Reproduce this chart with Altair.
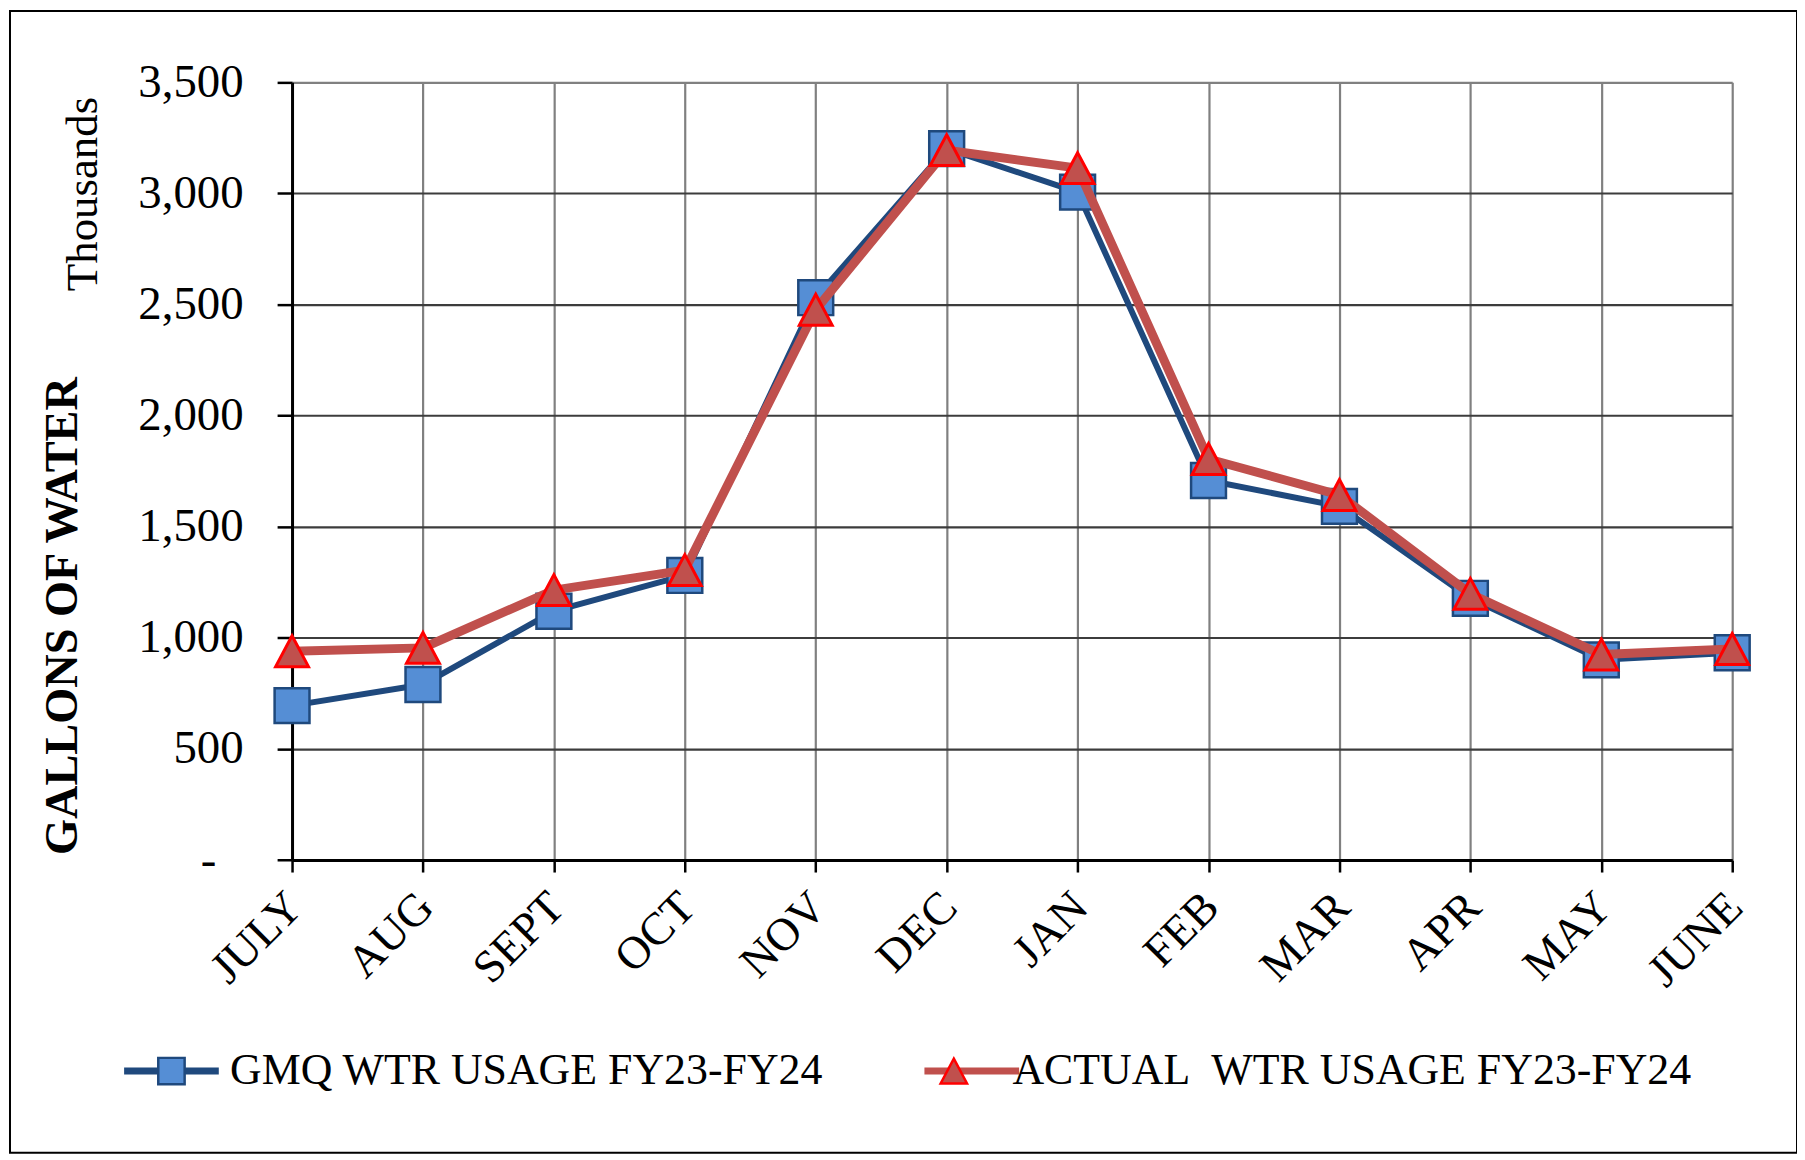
import altair as alt
import pandas as pd

# ---------------- data ----------------
months = ["JULY", "AUG", "SEPT", "OCT", "NOV", "DEC", "JAN", "FEB", "MAR", "APR", "MAY", "JUNE"]
gmq_values = [695, 790, 1120, 1281, 2531, 3202, 3006, 1708, 1592, 1178, 901, 933]
actual_values = [940, 955, 1215, 1305, 2477, 3195, 3114, 1805, 1643, 1198, 925, 950]
series_keys = ["1|GMQ WTR USAGE FY23-FY24", "2|ACTUAL\u00a0 WTR USAGE FY23-FY24"]
y_ticks = [0, 500, 1000, 1500, 2000, 2500, 3000, 3500]
unit_label = ["Thousands"]

gmq_df = pd.DataFrame({"month": months, "value": gmq_values,
                       "series": series_keys[0], "series_b": series_keys[0]})
act_df = pd.DataFrame({"month": months, "value": actual_values,
                       "series": series_keys[1], "series_b": series_keys[1]})
unit_df = pd.DataFrame({"label": unit_label})
frame_df = pd.DataFrame({"k": [0]})

FONT = "Liberation Serif"
TRI = "M0,-0.94L1,0.94L-1,0.94Z"

# ---------------- encodings ----------------
x_enc = alt.X(
    "month:O", sort=months,
    scale=alt.Scale(type="point", padding=0),
    axis=alt.Axis(
        title=None, labelAngle=315, labelFont=FONT, labelFontSize=46, labelColor="black",
        labelPadding=12, labelOffset=-13, labelOverlap=False,
        tickSize=12, tickColor="black", tickWidth=2.5,
        domainColor="black", domainWidth=3,
        grid=True, gridColor="#808080", gridWidth=2.2, zindex=0,
    ),
)
y_enc = alt.Y(
    "value:Q",
    scale=alt.Scale(domain=[0, 3500], nice=False),
    axis=alt.Axis(
        values=y_ticks,
        labelExpr="datum.value == 0 ? '-\u2002\u200a\u200b' : format(datum.value, ',')",
        labelFont=FONT, labelFontSize=47, labelColor="black", labelPadding=34,
        labelFlush=False, labelBaseline="middle",
        tickSize=15, tickColor="black", tickWidth=2.5,
        domainColor="black", domainWidth=3,
        grid=True, gridWidth=2.2,
        gridColor={"condition": {"test": "datum.value === 3500", "value": "#808080"}, "value": "#3c3c3c"},
        title="GALLONS OF WATER", titleFont=FONT, titleFontSize=46.5, titleFontWeight="bold",
        titleColor="black", titleAngle=270, titleX=-230, titleY=535,
        titleAlign="center", titleBaseline="middle", zindex=0,
    ),
)

common_legend = dict(
    title=None, orient="none", legendX=-173, legendY=970, direction="horizontal",
    symbolOffset=30, labelOffset=36.8, labelLimit=1500,
    labelFont=FONT, labelFontSize=44, labelColor="black",
    padding=0, rowPadding=0,
)
# line part of the legend entries (no visible labels)
legend_a = alt.Legend(symbolType="M-4.75,0H4.75", symbolSize=400, symbolStrokeWidth=7,
                      labelExpr="''", columnPadding=679, zindex=1, **common_legend)
# marker part of the legend entries, with the labels
legend_b = alt.Legend(symbolSize=700, symbolStrokeWidth=2.5, zindex=2,
                      labelExpr="split(datum.value, '|')[1]", columnPadding=78, **common_legend)

color_enc = alt.Color("series:N", scale=alt.Scale(range=["#1F497D", "#C0504D"]), legend=legend_a)
fill_enc = alt.Fill("series_b:N", scale=alt.Scale(range=["#558ED5", "#C0504D"]), legend=legend_b)
stroke_enc = alt.Stroke("series_b:N", scale=alt.Scale(range=["#1F497D", "#FF0000"]), legend=legend_b)
shape_enc = alt.Shape("series_b:N", scale=alt.Scale(range=["square", TRI]), legend=legend_b)

# ---------------- layers ----------------
frame = alt.Chart(frame_df).mark_rect(filled=False, stroke="black", strokeWidth=2).encode(
    x=alt.value(-283), x2=alt.value(1510), y=alt.value(-71.5), y2=alt.value(1074)
)

gmq_line = alt.Chart(gmq_df).mark_line(strokeWidth=6, strokeJoin="round").encode(
    x=x_enc, y=y_enc, color=color_enc)
gmq_pts = alt.Chart(gmq_df).mark_point(filled=True, opacity=1, size=1225, strokeWidth=2.5).encode(
    x=x_enc, y=y_enc, fill=fill_enc, stroke=stroke_enc, shape=shape_enc)
act_line = alt.Chart(act_df).mark_line(strokeWidth=9, strokeJoin="round").encode(
    x=x_enc, y=y_enc, color=color_enc)
act_pts = alt.Chart(act_df).mark_point(filled=True, opacity=1, size=1089, strokeWidth=3).encode(
    x=x_enc, y=y_enc, fill=fill_enc, stroke=stroke_enc, shape=shape_enc)

unit_text = alt.Chart(unit_df).mark_text(
    font=FONT, fontSize=45, color="black", angle=270, align="center", baseline="middle"
).encode(text="label:N", x=alt.value(-210), y=alt.value(112))

chart = alt.layer(frame, gmq_line, gmq_pts, act_line, act_pts, unit_text).properties(
    width=1445, height=780.3,
    autosize=alt.AutoSizeParams(type="none"),
    padding={"left": 285, "top": 72.7, "right": 65, "bottom": 295},
    background="white",
).configure_view(stroke=None)

chart.save("out.html", embed_options={"renderer": "svg", "actions": False})
